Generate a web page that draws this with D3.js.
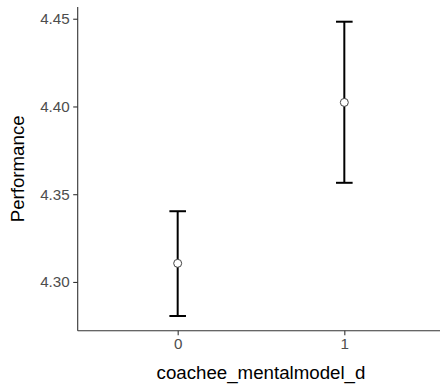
<!DOCTYPE html>
<html>
<head>
<meta charset="utf-8">
<script src="https://cdn.jsdelivr.net/npm/d3@7"></script>
<style>
  html, body { margin: 0; padding: 0; background: #fff; }
  svg { display: block; }
  text { font-family: "Liberation Sans", Arial, sans-serif; }
</style>
</head>
<body>
<svg id="chart" width="440" height="390"></svg>
<script>
// Group levels and estimated means with confidence limits
const groups = ["0", "1"];
const means = [4.3106, 4.4023];
const lower = [4.2806, 4.3565];
const upper = [4.3403, 4.4483];
const yTicks = [4.30, 4.35, 4.40, 4.45];

const data = groups.map((g, i) => ({ g, mean: means[i], lo: lower[i], hi: upper[i] }));

const svg = d3.select("#chart");
const panel = { left: 77.7, right: 444.3, top: 7, bottom: 330.7 };

// Continuous y with 5% expansion around the interval extent
const yMin = d3.min(lower), yMax = d3.max(upper);
const pad = (yMax - yMin) * 0.05;
const y = d3.scaleLinear()
  .domain([yMin - pad, yMax + pad])
  .range([panel.bottom, panel.top]);

// Discrete x positions with 0.6 unit expansion on each side
const xPos = d3.scaleLinear()
  .domain([-0.6, groups.length - 1 + 0.6])
  .range([panel.left, panel.right]);
const x = g => xPos(groups.indexOf(g));

const axisColor = "#333333";
const labelColor = "#4d4d4d";
const tickFont = "15.2px";
const titleFont = "18.7px";

// Y axis
const yAxis = svg.append("g")
  .attr("transform", `translate(${panel.left},0)`)
  .call(d3.axisLeft(y).tickValues(yTicks).tickFormat(d3.format(".2f")).tickSize(4.5).tickPadding(3.5));
yAxis.select(".domain").attr("stroke", axisColor).attr("stroke-width", 1.1)
  .attr("d", `M0,${panel.bottom}V${panel.top}`);
yAxis.selectAll(".tick line").attr("stroke", axisColor).attr("stroke-width", 1.1);
yAxis.selectAll(".tick text").attr("fill", labelColor).style("font-size", tickFont)
  .style("font-family", "'Liberation Sans', Arial, sans-serif");

// X axis
const xAxis = svg.append("g")
  .attr("transform", `translate(0,${panel.bottom})`)
  .call(d3.axisBottom(xPos).tickValues(groups.map((g, i) => i)).tickFormat(i => groups[i]).tickSize(4.5).tickPadding(3.5));
xAxis.select(".domain").attr("stroke", axisColor).attr("stroke-width", 1.1)
  .attr("d", `M${panel.left},0H${panel.right}`);
xAxis.selectAll(".tick line").attr("stroke", axisColor).attr("stroke-width", 1.1);
xAxis.selectAll(".tick text").attr("fill", labelColor).style("font-size", tickFont)
  .style("font-family", "'Liberation Sans', Arial, sans-serif");

// Axis titles
svg.append("text")
  .attr("x", (panel.left + panel.right) / 2)
  .attr("y", 379)
  .attr("text-anchor", "middle")
  .attr("fill", "#000")
  .style("font-size", titleFont)
  .text("coachee_mentalmodel_d");

svg.append("text")
  .attr("transform", `translate(24,${(panel.top + panel.bottom) / 2}) rotate(-90)`)
  .attr("text-anchor", "middle")
  .attr("fill", "#000")
  .style("font-size", titleFont)
  .text("Performance");

// Error bars
const capHalf = 8.3;
const bars = svg.append("g").selectAll("g").data(data).join("g");
bars.append("line")
  .attr("x1", d => x(d.g)).attr("x2", d => x(d.g))
  .attr("y1", d => y(d.lo)).attr("y2", d => y(d.hi))
  .attr("stroke", "#000").attr("stroke-width", 2);
bars.append("line")
  .attr("x1", d => x(d.g) - capHalf).attr("x2", d => x(d.g) + capHalf)
  .attr("y1", d => y(d.hi)).attr("y2", d => y(d.hi))
  .attr("stroke", "#000").attr("stroke-width", 2);
bars.append("line")
  .attr("x1", d => x(d.g) - capHalf).attr("x2", d => x(d.g) + capHalf)
  .attr("y1", d => y(d.lo)).attr("y2", d => y(d.lo))
  .attr("stroke", "#000").attr("stroke-width", 2);

// Mean points
bars.append("circle")
  .attr("cx", d => x(d.g)).attr("cy", d => y(d.mean))
  .attr("r", 4)
  .attr("fill", "#fff")
  .attr("stroke", "#444")
  .attr("stroke-width", 1);
</script>
</body>
</html>
